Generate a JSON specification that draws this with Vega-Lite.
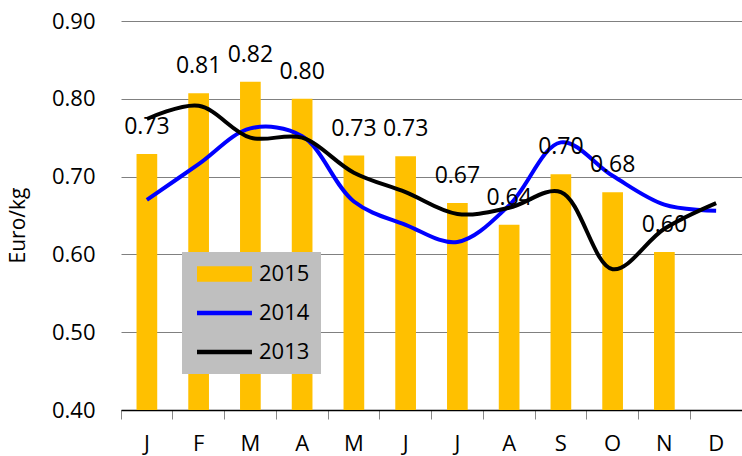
{
  "$schema": "https://vega.github.io/schema/vega-lite/v6.json",
  "width": 621,
  "height": 389,
  "autosize": "none",
  "padding": {"left": 121, "top": 21, "right": 0, "bottom": 46},
  "background": "white",
  "config": {
    "font": "Open Sans",
    "view": {"stroke": null},
    "axis": {"labelFont": "Open Sans", "titleFont": "Open Sans", "labelColor": "black", "titleColor": "black"}
  },
  "data": {
    "values": [
      {"month": "Jan", "year": "2015", "price": 0.729},
      {"month": "Feb", "year": "2015", "price": 0.807},
      {"month": "Mar", "year": "2015", "price": 0.822},
      {"month": "Apr", "year": "2015", "price": 0.800},
      {"month": "May", "year": "2015", "price": 0.727},
      {"month": "Jun", "year": "2015", "price": 0.726},
      {"month": "Jul", "year": "2015", "price": 0.666},
      {"month": "Aug", "year": "2015", "price": 0.638},
      {"month": "Sep", "year": "2015", "price": 0.703},
      {"month": "Oct", "year": "2015", "price": 0.680},
      {"month": "Nov", "year": "2015", "price": 0.603},
      {"month": "Jan", "year": "2014", "price": 0.670},
      {"month": "Feb", "year": "2014", "price": 0.716},
      {"month": "Mar", "year": "2014", "price": 0.762},
      {"month": "Apr", "year": "2014", "price": 0.752},
      {"month": "May", "year": "2014", "price": 0.668},
      {"month": "Jun", "year": "2014", "price": 0.638},
      {"month": "Jul", "year": "2014", "price": 0.616},
      {"month": "Aug", "year": "2014", "price": 0.663},
      {"month": "Sep", "year": "2014", "price": 0.744},
      {"month": "Oct", "year": "2014", "price": 0.701},
      {"month": "Nov", "year": "2014", "price": 0.664},
      {"month": "Dec", "year": "2014", "price": 0.656},
      {"month": "Jan", "year": "2013", "price": 0.774},
      {"month": "Feb", "year": "2013", "price": 0.791},
      {"month": "Mar", "year": "2013", "price": 0.750},
      {"month": "Apr", "year": "2013", "price": 0.750},
      {"month": "May", "year": "2013", "price": 0.705},
      {"month": "Jun", "year": "2013", "price": 0.680},
      {"month": "Jul", "year": "2013", "price": 0.652},
      {"month": "Aug", "year": "2013", "price": 0.660},
      {"month": "Sep", "year": "2013", "price": 0.680},
      {"month": "Oct", "year": "2013", "price": 0.581},
      {"month": "Nov", "year": "2013", "price": 0.633},
      {"month": "Dec", "year": "2013", "price": 0.666}
    ]
  },
  "encoding": {
    "x": {
      "field": "month",
      "type": "ordinal",
      "sort": ["Jan", "Feb", "Mar", "Apr", "May", "Jun", "Jul", "Aug", "Sep", "Oct", "Nov", "Dec"],
      "scale": {"paddingInner": 0, "paddingOuter": 0},
      "axis": {
        "title": null,
        "labelExpr": "substring(datum.label, 0, 1)",
        "labelAngle": 0,
        "labelFontSize": 22,
        "labelPadding": 14,
        "bandPosition": 0,
        "ticks": true,
        "tickSize": 9,
        "tickColor": "#888888",
        "domainColor": "black",
        "domainWidth": 1.5,
        "grid": false
      }
    },
    "y": {
      "field": "price",
      "type": "quantitative",
      "scale": {"domain": [0.4, 0.9], "nice": false, "zero": false},
      "axis": {
        "title": "Euro/kg",
        "titleFontSize": 21,
        "titleFontWeight": "normal",
        "titleAngle": -90,
        "titleX": -97,
        "titleY": 204,
        "titleAlign": "center",
        "titleBaseline": "alphabetic",
        "values": [0.4, 0.5, 0.6, 0.7, 0.8, 0.9],
        "format": ".2f",
        "labelFontSize": 22,
        "labelPadding": 26,
        "ticks": false,
        "domain": false,
        "grid": true,
        "gridColor": "#808080",
        "gridWidth": 1
      }
    }
  },
  "layer": [
    {
      "transform": [{"filter": "datum.year == '2015'"}],
      "mark": {"type": "bar", "width": {"band": 0.4}},
      "encoding": {
        "y2": {"datum": 0.4},
        "color": {
          "field": "year",
          "type": "nominal",
          "scale": {"domain": ["2015", "2014", "2013"], "range": ["#FFC000", "#0000FF", "#000000"]},
          "legend": {
            "title": null,
            "orient": "none",
            "legendX": 61,
            "legendY": 231,
            "fillColor": "#BFBFBF",
            "padding": 11,
            "labelFontSize": 22,
            "labelColor": "black",
            "labelOffset": 44,
            "rowPadding": 17,
            "symbolSize": 196,
            "symbolStrokeWidth": 0,
            "encode": {
              "symbols": {
                "update": {
                  "shape": {"signal": "datum.value == '2015' ? 'M-1,-1.1H6.85V1.1H-1Z' : 'M-1,-0.32H6.85V0.32H-1Z'"},
                  "fill": {"scale": "color", "field": "value"},
                  "stroke": {"value": "transparent"},
                  "opacity": {"value": 1}
                }
              }
            }
          }
        }
      }
    },
    {
      "transform": [{"filter": "datum.year != '2015'"}],
      "mark": {"type": "line", "interpolate": "catmull-rom", "strokeWidth": 4},
      "encoding": {
        "color": {"field": "year", "type": "nominal"}
      }
    },
    {
      "transform": [{"filter": "datum.year == '2015'"}],
      "mark": {"type": "text", "fontSize": 23, "color": "black", "dy": -27, "baseline": "middle"},
      "encoding": {
        "text": {"field": "price", "type": "quantitative", "format": ".2f"}
      }
    }
  ]
}
